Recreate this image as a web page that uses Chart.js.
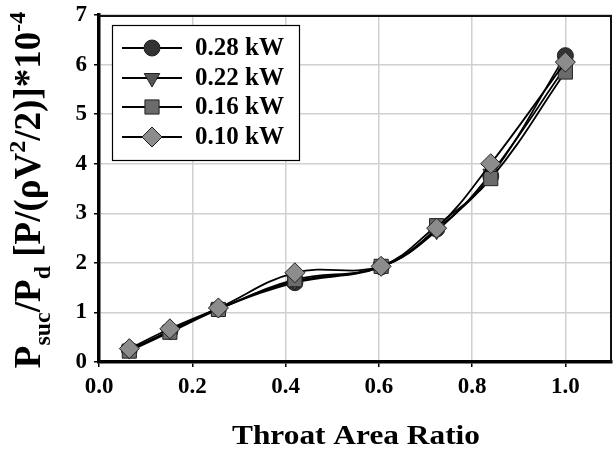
<!DOCTYPE html>
<html>
<head>
<meta charset="utf-8">
<script src="https://cdn.jsdelivr.net/npm/chart.js@4/dist/chart.umd.min.js"></script>
<style>
html,body{margin:0;padding:0;background:#fff;}
#wrap{width:613px;height:450px;position:relative;}
</style>
</head>
<body>
<div id="wrap"><canvas id="c" width="613" height="450"></canvas></div>
<script>
// Throat area ratio (x) values
const throatRatio = [0.065, 0.152, 0.256, 0.42, 0.605, 0.724, 0.84, 1.0];
// Pressure ratio series (x 10^-4)
const p028 = [0.25, 0.62, 1.07, 1.60, 1.92, 2.68, 3.75, 6.18];
const p022 = [0.24, 0.63, 1.08, 1.63, 1.92, 2.65, 3.80, 5.95];
const p016 = [0.22, 0.60, 1.06, 1.66, 1.93, 2.75, 3.70, 5.85];
const p010 = [0.27, 0.67, 1.09, 1.80, 1.93, 2.70, 4.00, 6.05];
const seriesLabels = ['0.28 kW', '0.22 kW', '0.16 kW', '0.10 kW'];
const xTickValues = [0.0, 0.2, 0.4, 0.6, 0.8, 1.0];
const yTickValues = [0, 1, 2, 3, 4, 5, 6, 7];
const xTitle = 'Throat Area Ratio';

const SERIF = '"Liberation Serif", "Times New Roman", serif';

function pts(ys){ return throatRatio.map((x,i)=>({x:x, y:ys[i]})); }

const styles = [
  {style:'circle', radius:8, fill:'#333333', rot:0, order:3},
  {style:'triangle', radius:9, fill:'#555555', rot:180, order:2},
  {style:'rect', radius:10, fill:'#6b6b6b', rot:0, order:1},
  {style:'rectRot', radius:10, fill:'#8c8c8c', rot:0, order:0}
];
const seriesData = [p028, p022, p016, p010];

const datasets = seriesData.map((d,i)=>({
  label: seriesLabels[i],
  data: pts(d),
  borderColor:'#000',
  borderWidth:1.8,
  pointStyle: styles[i].style,
  pointRadius: styles[i].radius,
  pointRotation: styles[i].rot,
  pointBackgroundColor: styles[i].fill,
  pointBorderColor:'#222',
  pointBorderWidth:1,
  tension:0.4,
  order: styles[i].order,
  clip:false
}));

const framePlugin = {
  id:'frame',
  afterDraw(chart){
    const {ctx, chartArea:a} = chart;
    ctx.save();
    ctx.strokeStyle='#111';
    ctx.lineWidth=2;
    ctx.beginPath();
    ctx.moveTo(a.left, a.top+1);
    ctx.lineTo(a.right-1, a.top+1);
    ctx.lineTo(a.right-1, a.bottom);
    ctx.stroke();
    ctx.restore();

    // legend
    ctx.save();
    const bx=112, by=25, bw=187, bh=135;
    ctx.fillStyle='#fff';
    ctx.fillRect(bx,by,bw,bh);
    ctx.strokeStyle='#000';
    ctx.lineWidth=1.2;
    ctx.strokeRect(bx+0.5,by+0.5,bw,bh);
    const rows=[48,78,107,137];
    chart.data.datasets.forEach((ds,i)=>{
      const y=rows[i];
      ctx.strokeStyle='#000';
      ctx.lineWidth=1.8;
      ctx.beginPath();
      ctx.moveTo(122,y);ctx.lineTo(182,y);ctx.stroke();
      ctx.fillStyle=ds.pointBackgroundColor;
      ctx.strokeStyle=ds.pointBorderColor;
      ctx.lineWidth=1;
      Chart.helpers.drawPoint(ctx,{pointStyle:ds.pointStyle,rotation:ds.pointRotation,radius:ds.pointRadius,borderWidth:1},152,y);
      ctx.fillStyle='#000';
      ctx.font='bold 25px '+SERIF;
      ctx.textBaseline='middle';
      ctx.textAlign='left';
      ctx.fillText(ds.label,195,y+1);
    });
    ctx.restore();

    // x-axis title (slightly widened like the reference)
    ctx.save();
    ctx.font='bold 28px '+SERIF;
    const tw=ctx.measureText(xTitle).width;
    const sx=248/tw;
    ctx.translate(356,444);
    ctx.scale(sx,1);
    ctx.fillStyle='#000';
    ctx.textAlign='center';
    ctx.textBaseline='alphabetic';
    ctx.fillText(xTitle,0,0);
    ctx.restore();

    // y-axis title with sub/superscripts
    ctx.save();
    ctx.translate(40, 190);
    ctx.rotate(-Math.PI/2);
    const big='bold 37px '+SERIF, small='bold 24px '+SERIF;
    const parts=[
      ['P',big,0],['suc',small,10],['/P',big,0],['d',small,10],[' [P/(ρV',big,0],['2',small,-15],['/2)]*10',big,0],['-4',small,-15]
    ];
    let total=0;
    parts.forEach(p=>{ctx.font=p[1]; total+=ctx.measureText(p[0]).width;});
    let x=-total/2;
    ctx.fillStyle='#000';
    ctx.textBaseline='alphabetic';
    ctx.textAlign='left';
    parts.forEach(p=>{ctx.font=p[1]; ctx.fillText(p[0],x,p[2]); x+=ctx.measureText(p[0]).width;});
    ctx.restore();
  }
};

new Chart(document.getElementById('c'),{
  type:'scatter',
  data:{datasets},
  plugins:[framePlugin],
  options:{
    responsive:false,
    animation:false,
    events:[],
    layout:{autoPadding:false, padding:{top:15,right:1,left:0,bottom:0}},
    plugins:{legend:{display:false},tooltip:{enabled:false}},
    datasets:{scatter:{showLine:true}},
    scales:{
      x:{
        type:'linear', min:0, max:1.1,
        afterBuildTicks(s){ s.ticks = xTickValues.map(v=>({value:v})); },
        afterFit(s){ s.height = 88; s.paddingLeft = 0; s.paddingRight = 0; },
        ticks:{color:'#000', font:{family:SERIF, size:23, weight:'bold'}, padding:6,
          callback:v=>Number(v).toFixed(1)},
        grid:{color:'#d0d0d0', lineWidth:1.5, tickLength:5, tickColor:'#000'},
        border:{color:'#000', width:3.5},
        title:{display:false}
      },
      y:{
        type:'linear', min:0, max:7,
        afterBuildTicks(s){ s.ticks = yTickValues.map(v=>({value:v})); },
        afterFit(s){ s.width = 99; s.paddingTop = 0; s.paddingBottom = 0; },
        ticks:{color:'#000', font:{family:SERIF, size:23, weight:'bold'}, padding:7},
        grid:{color:'#d0d0d0', lineWidth:1.5, tickLength:5, tickColor:'#000'},
        border:{color:'#000', width:3.5}
      }
    }
  }
});
</script>
</body>
</html>
